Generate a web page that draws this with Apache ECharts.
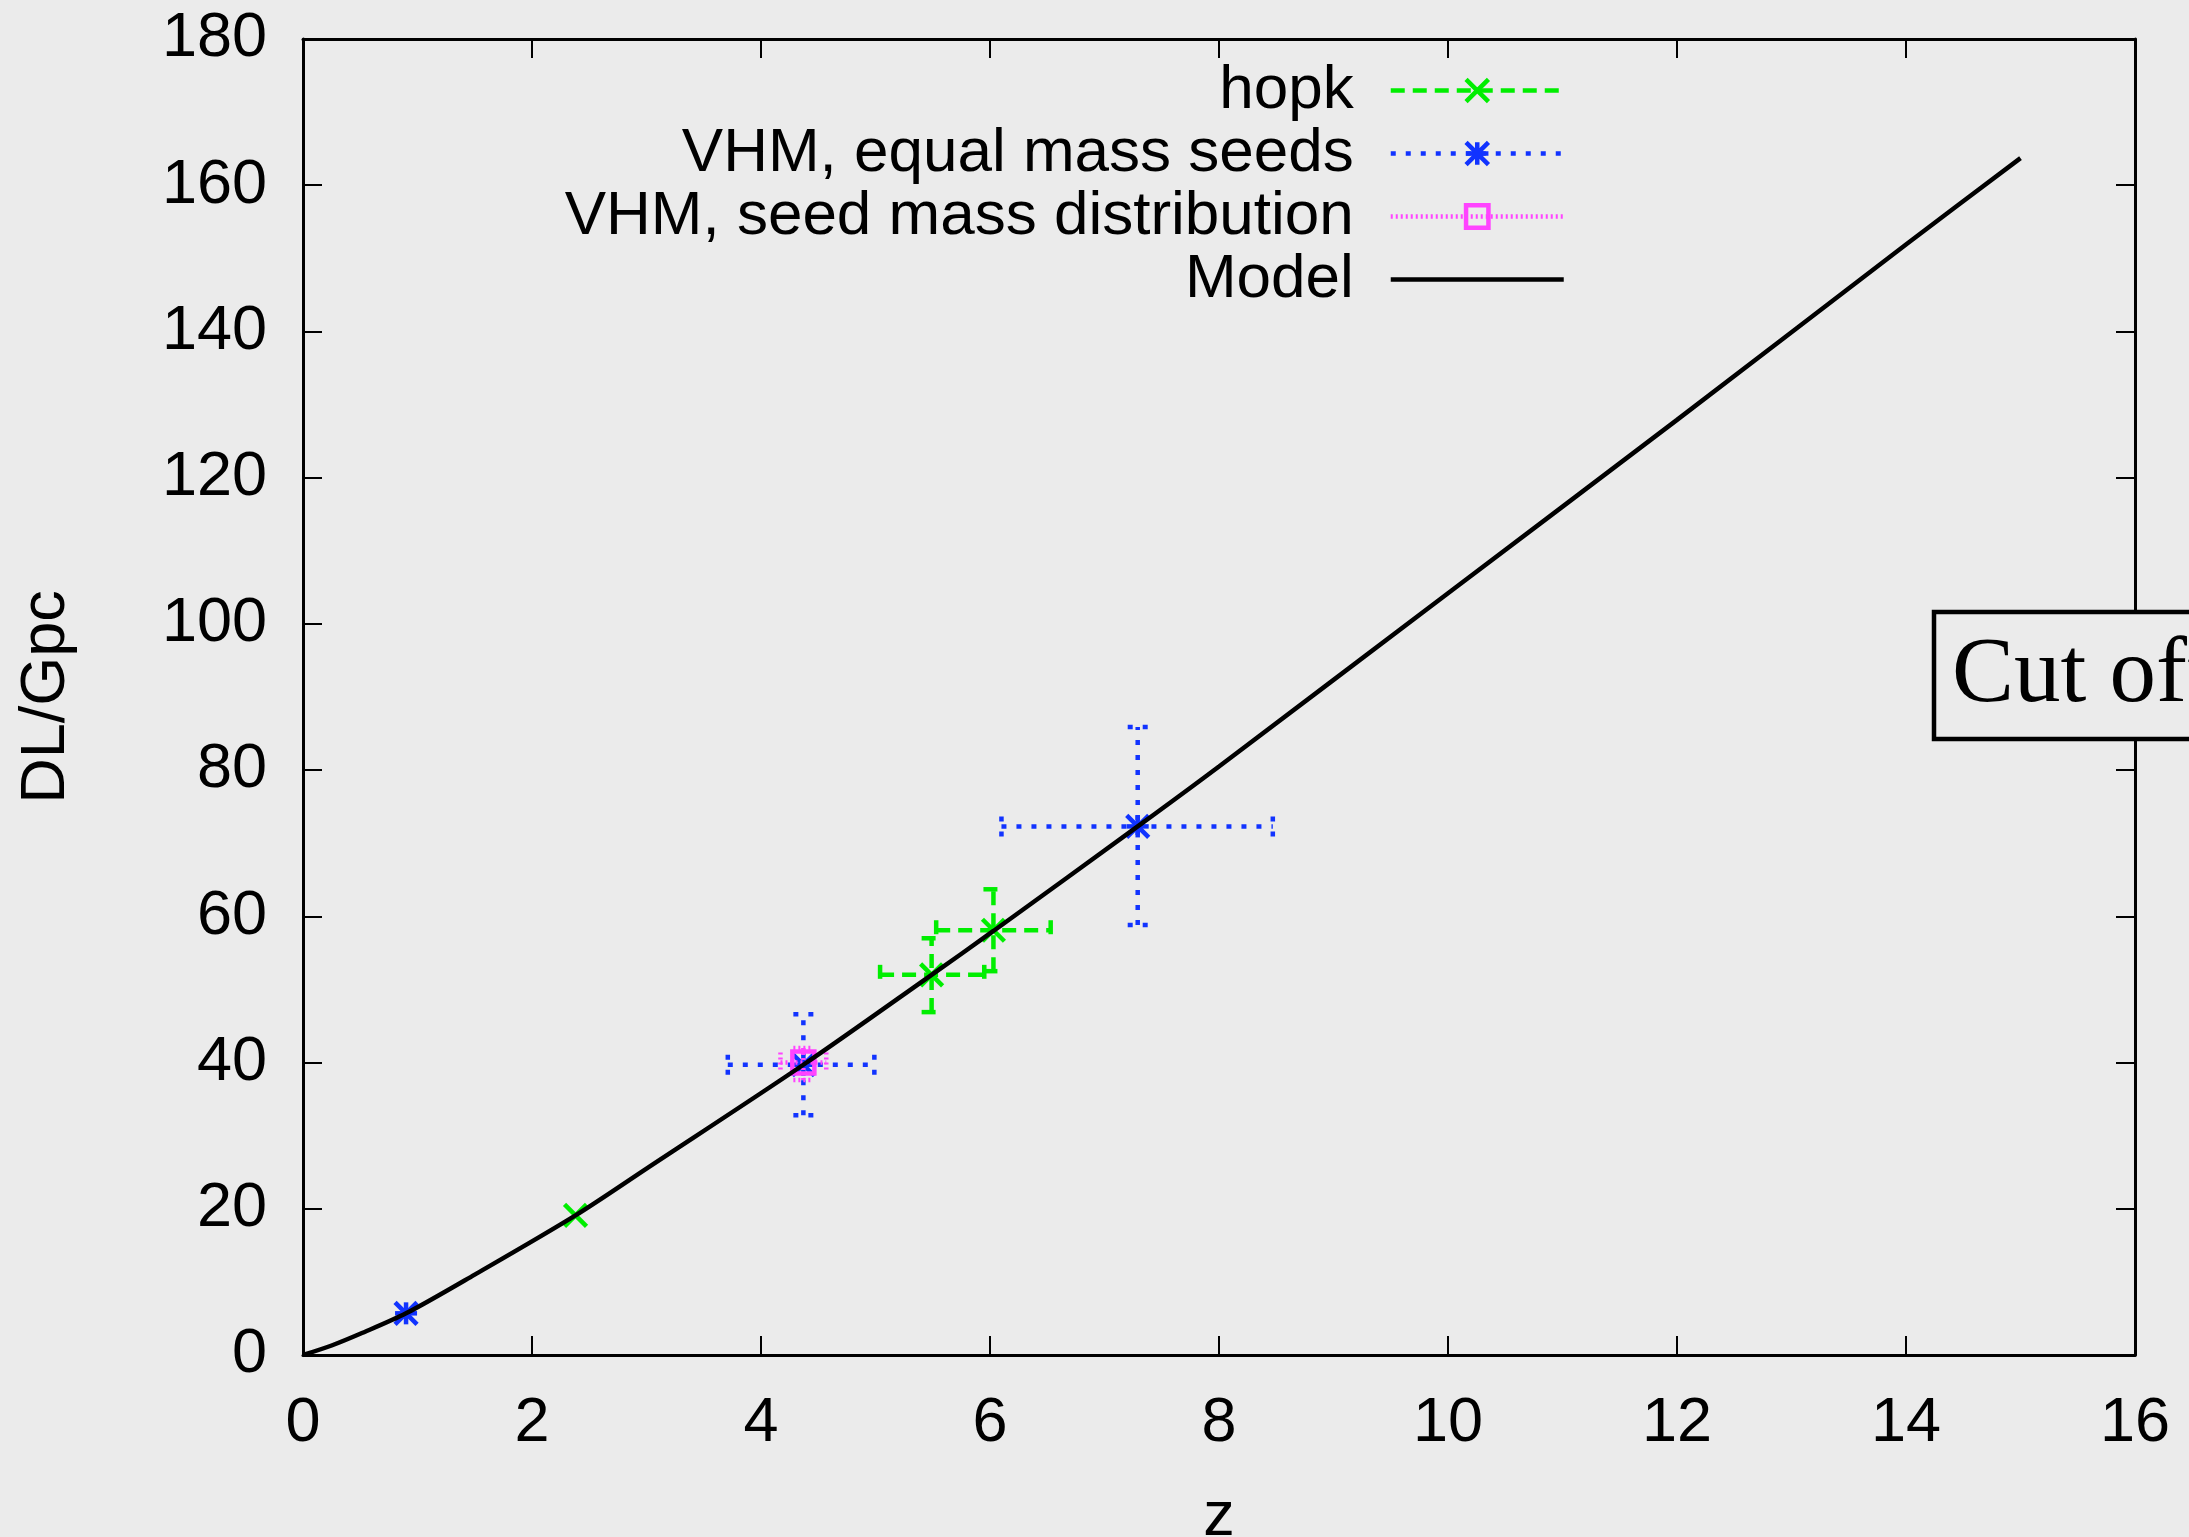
<!DOCTYPE html>
<html>
<head>
<meta charset="utf-8">
<script src="https://cdn.jsdelivr.net/npm/echarts@6/dist/echarts.min.js"></script>
<style>
html,body{margin:0;padding:0;background:#ebebeb;overflow:hidden;}
#c{width:2189px;height:1537px;}
</style>
</head>
<body>
<div id="c"></div>
<script>
// ---- data ----
const hopkZ      = [2.38, 5.49, 6.03];
const hopkDL     = [19.1, 52.0, 58.1];
const hopkZLow   = [2.38, 5.04, 5.53];
const hopkZHigh  = [2.38, 5.95, 6.53];
const hopkDLLow  = [19.1, 46.9, 52.5];
const hopkDLHigh = [19.1, 57.0, 63.7];

const vhmZ      = [0.90, 4.37, 7.29];
const vhmDL     = [5.7, 39.7, 72.3];
const vhmZLow   = [0.90, 3.71, 6.10];
const vhmZHigh  = [0.90, 4.99, 8.47];
const vhmDLLow  = [5.7, 32.8, 58.8];
const vhmDLHigh = [5.7, 46.6, 85.9];

const seedZ      = [4.37];
const seedDL     = [40.0];
const seedZLow   = [4.17];
const seedZHigh  = [4.57];
const seedDLLow  = [37.6];
const seedDLHigh = [42.0];

const modelZ  = [0, 0.25, 0.5, 0.9, 1.5, 2.38, 3.0, 4.37, 5.49, 6.03, 7.29, 8.0, 10.0, 12.0, 14.0, 15.0];
const modelDL = [0, 1.3, 2.9, 5.7, 11.0, 19.1, 25.5, 39.7, 52.0, 58.0, 72.3, 80.5, 104.2, 127.9, 151.9, 163.7];

const seriesNames = ['hopk', 'VHM, equal mass seeds', 'VHM, seed mass distribution', 'Model'];
const xAxisName = 'z';
const yAxisName = 'DL/Gpc';
const boxText = 'Cut off';

// ---- helpers ----
function rows(z, d, zl, zh, dl, dh) {
  return z.map((v, i) => [v, d[i], zl[i], zh[i], dl[i], dh[i]]);
}
const GREEN = '#00ee00', BLUE = '#1133ff', PINK = '#ff44ff';
const FONT = 'Liberation Sans';
const FS = 63;
const LW = 4.5;

function errRender(color, dash, marker) {
  return function (params, api) {
    const x = api.value(0), y = api.value(1);
    const xl = api.value(2), xh = api.value(3), yl = api.value(4), yh = api.value(5);
    const c = api.coord([x, y]);
    const a = api.coord([xl, y]), b = api.coord([xh, y]);
    const lo = api.coord([x, yl]), hi = api.coord([x, yh]);
    const cap = 10;
    const ls = { stroke: color, lineWidth: LW, lineDash: dash, fill: null };
    const ch = [];
    if (xh > xl) {
      ch.push({ type: 'line', shape: { x1: a[0], y1: c[1], x2: b[0], y2: c[1] }, style: ls });
      ch.push({ type: 'line', shape: { x1: a[0], y1: c[1] - cap, x2: a[0], y2: c[1] + cap }, style: ls });
      ch.push({ type: 'line', shape: { x1: b[0], y1: c[1] - cap, x2: b[0], y2: c[1] + cap }, style: ls });
    }
    if (yh > yl) {
      ch.push({ type: 'line', shape: { x1: c[0], y1: lo[1], x2: c[0], y2: hi[1] }, style: ls });
      ch.push({ type: 'line', shape: { x1: c[0] - cap, y1: lo[1], x2: c[0] + cap, y2: lo[1] }, style: ls });
      ch.push({ type: 'line', shape: { x1: c[0] - cap, y1: hi[1], x2: c[0] + cap, y2: hi[1] }, style: ls });
    }
    const s = 11;
    const ms = { stroke: color, lineWidth: LW, fill: null };
    if (marker === 'x' || marker === 'star') {
      ch.push({ type: 'line', shape: { x1: c[0] - s, y1: c[1] - s, x2: c[0] + s, y2: c[1] + s }, style: ms });
      ch.push({ type: 'line', shape: { x1: c[0] - s, y1: c[1] + s, x2: c[0] + s, y2: c[1] - s }, style: ms });
    }
    if (marker === 'star') {
      ch.push({ type: 'line', shape: { x1: c[0], y1: c[1] - s, x2: c[0], y2: c[1] + s }, style: ms });
      ch.push({ type: 'line', shape: { x1: c[0] - s, y1: c[1], x2: c[0] + s, y2: c[1] }, style: ms });
    }
    if (marker === 'square') {
      ch.push({ type: 'rect', shape: { x: c[0] - s, y: c[1] - s, width: 2 * s, height: 2 * s }, style: ms });
    }
    return { type: 'group', children: ch };
  };
}

const X_PATH = 'path://M0,0L10,10M10,0L0,10';
const STAR_PATH = 'path://M0,0L10,10M10,0L0,10M5,0L5,10M0,5L10,5';
const SQ_PATH = 'path://M0,0L10,0L10,10L0,10Z';

const axisCommon = {
  min: 0,
  axisLine: { show: true, onZero: false, lineStyle: { color: '#000', width: 3 } },
  axisTick: { show: true, inside: true, length: 19, lineStyle: { color: '#000', width: 2 } },
  splitLine: { show: false }
};

const chart = echarts.init(document.getElementById('c'));
chart.setOption({
  backgroundColor: '#ebebeb',
  animation: false,
  grid: { left: 303, right: 54, top: 39, bottom: 182, containLabel: false, outerBoundsMode: 'none' },
  xAxis: [
    Object.assign({}, axisCommon, {
      type: 'value', position: 'bottom', max: 16, interval: 2,
      name: xAxisName, nameLocation: 'middle', nameGap: 131,
      nameTextStyle: { fontSize: FS, fontFamily: FONT, color: '#000' },
      axisLabel: { show: true, margin: 37, fontSize: FS, fontFamily: FONT, color: '#000' }
    }),
    Object.assign({}, axisCommon, {
      type: 'value', position: 'top', max: 16, interval: 2,
      axisLabel: { show: false }
    })
  ],
  yAxis: [
    Object.assign({}, axisCommon, {
      type: 'value', position: 'left', max: 180, interval: 20,
      name: yAxisName, nameLocation: 'middle', nameGap: 225, nameRotate: 90,
      nameTextStyle: { fontSize: FS, fontFamily: FONT, color: '#000' },
      axisLabel: { show: true, margin: 36, fontSize: FS, fontFamily: FONT, color: '#000' }
    }),
    Object.assign({}, axisCommon, {
      type: 'value', position: 'right', max: 180, interval: 20,
      axisLabel: { show: false }
    })
  ],
  legend: {
    data: [
      { name: seriesNames[0] },
      { name: seriesNames[1] },
      { name: seriesNames[2] },
      { name: seriesNames[3], itemStyle: { opacity: 0, borderWidth: 0 } }
    ],
    orient: 'vertical',
    align: 'right',
    right: 623,
    top: 59,
    padding: 0,
    itemGap: 0,
    itemWidth: 173,
    itemHeight: 28,
    selectedMode: false,
    textStyle: { fontSize: 62, fontFamily: FONT, color: '#000', lineHeight: 63, padding: [0, 32, 0, 0] },
    lineStyle: { width: LW },
    itemStyle: { borderWidth: LW }
  },
  series: [
    // legend-only entries
    { name: seriesNames[0], type: 'line', data: [], symbol: X_PATH,
      lineStyle: { color: GREEN, width: LW, type: [14, 8] },
      itemStyle: { color: GREEN, borderColor: GREEN, borderWidth: LW } },
    { name: seriesNames[1], type: 'line', data: [], symbol: STAR_PATH,
      lineStyle: { color: BLUE, width: LW, type: [5, 10] },
      itemStyle: { color: BLUE, borderColor: BLUE, borderWidth: LW } },
    { name: seriesNames[2], type: 'line', data: [], symbol: SQ_PATH,
      lineStyle: { color: PINK, width: LW, type: [2, 3] },
      itemStyle: { color: 'rgba(0,0,0,0)', borderColor: PINK, borderWidth: LW } },
    // error-bar marks
    { name: 'hopk-bars', type: 'custom', xAxisIndex: 0, yAxisIndex: 0, z: 3,
      encode: { x: 0, y: 1 },
      renderItem: errRender(GREEN, [14, 8], 'x'),
      data: rows(hopkZ, hopkDL, hopkZLow, hopkZHigh, hopkDLLow, hopkDLHigh) },
    { name: 'vhm-bars', type: 'custom', xAxisIndex: 0, yAxisIndex: 0, z: 3,
      encode: { x: 0, y: 1 },
      renderItem: errRender(BLUE, [5, 10], 'star'),
      data: rows(vhmZ, vhmDL, vhmZLow, vhmZHigh, vhmDLLow, vhmDLHigh) },
    { name: 'seed-bars', type: 'custom', xAxisIndex: 0, yAxisIndex: 0, z: 4,
      encode: { x: 0, y: 1 },
      renderItem: errRender(PINK, [2, 3], 'square'),
      data: rows(seedZ, seedDL, seedZLow, seedZHigh, seedDLLow, seedDLHigh) },
    // model curve
    { name: seriesNames[3], type: 'line', z: 5, symbol: 'none', showSymbol: false,
      smooth: 0.3,
      lineStyle: { color: '#000', width: LW, type: 'solid' },
      itemStyle: { color: '#000' },
      data: modelZ.map((z, i) => [z, modelDL[i]]) }
  ],
  graphic: [
    { type: 'rect', z: 100, shape: { x: 1934, y: 612, width: 400, height: 127 },
      style: { fill: '#ebebeb', stroke: '#000', lineWidth: 4.5 } },
    { type: 'text', z: 101, x: 1952, y: 677,
      style: { text: boxText, font: '93px "Liberation Serif"', fill: '#000', verticalAlign: 'middle', align: 'left' } }
  ]
});
</script>
</body>
</html>
